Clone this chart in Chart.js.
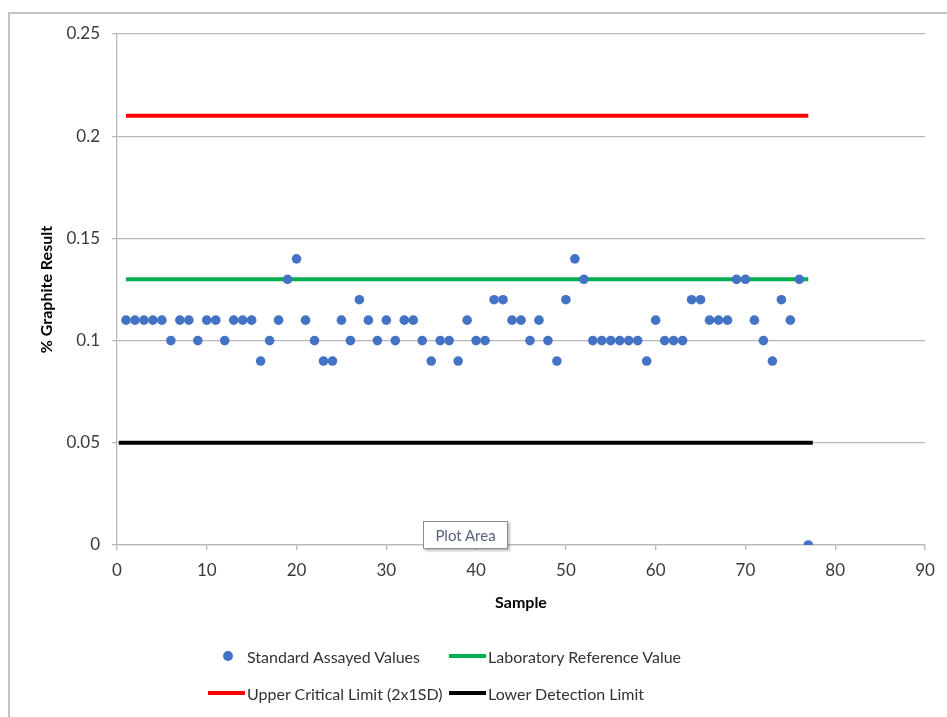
<!DOCTYPE html>
<html>
<head>
<meta charset="utf-8">
<script src="https://cdn.jsdelivr.net/npm/chart.js@4/dist/chart.umd.min.js"></script>
<style>
  body { margin: 0; background: #fff; }
  #wrap { position: relative; width: 947px; height: 717px; font-family: Lato, "Liberation Sans", sans-serif; }
  #frame { position: absolute; left: 8px; top: 12px; right: 0; bottom: 0; border-left: 2px solid #c4c4c4; border-top: 2px solid #c4c4c4; pointer-events: none; }
  #legend { position: absolute; left: 0; top: 0; width: 947px; height: 717px; pointer-events: none; }
  .item { position: absolute; display: flex; align-items: center; font-size: 16px; color: #333; white-space: nowrap; height: 20px; }
  .sym { width: 37px; height: 20px; position: relative; margin-right: 2px; }
  .sym .ln { position: absolute; left: 0; right: 0; top: 8px; height: 4px; }
  .sym .dot { position: absolute; left: 15px; top: 5px; width: 10px; height: 10px; border-radius: 50%; }
  #tip { position: absolute; left: 423px; top: 521px; width: 83px; height: 26px; background: #fff; border: 1px solid #8c8c8c;
         box-shadow: 2px 2px 2px rgba(0,0,0,0.25); font-size: 15px; color: #56627a; line-height: 26px; text-align: center; }
</style>
</head>
<body>
<div id="wrap">
  <canvas id="qcChart" width="947" height="717"></canvas>
  <div id="frame"></div>
  <div id="legend"></div>
  <div id="tip">Plot Area</div>
</div>
<script>
const samples = [
  1, 2, 3, 4, 5, 6, 7, 8, 9, 10,
  11, 12, 13, 14, 15, 16, 17, 18, 19, 20,
  21, 22, 23, 24, 25, 26, 27, 28, 29, 30,
  31, 32, 33, 34, 35, 36, 37, 38, 39, 40,
  41, 42, 43, 44, 45, 46, 47, 48, 49, 50,
  51, 52, 53, 54, 55, 56, 57, 58, 59, 60,
  61, 62, 63, 64, 65, 66, 67, 68, 69, 70,
  71, 72, 73, 74, 75, 76, 77
];

const assayed = [
  0.11, 0.11, 0.11, 0.11, 0.11, 0.10, 0.11, 0.11, 0.10, 0.11,
  0.11, 0.10, 0.11, 0.11, 0.11, 0.09, 0.10, 0.11, 0.13, 0.14,
  0.11, 0.10, 0.09, 0.09, 0.11, 0.10, 0.12, 0.11, 0.10, 0.11,
  0.10, 0.11, 0.11, 0.10, 0.09, 0.10, 0.10, 0.09, 0.11, 0.10,
  0.10, 0.12, 0.12, 0.11, 0.11, 0.10, 0.11, 0.10, 0.09, 0.12,
  0.14, 0.13, 0.10, 0.10, 0.10, 0.10, 0.10, 0.10, 0.09, 0.11,
  0.10, 0.10, 0.10, 0.12, 0.12, 0.11, 0.11, 0.11, 0.13, 0.13,
  0.11, 0.10, 0.09, 0.12, 0.11, 0.13, 0.00
];

// limit lines (start / end of each)
const refX = [1, 77];
const refY = [0.13, 0.13];
const uclX = [1, 77];
const uclY = [0.21, 0.21];
const ldlX = [0.2, 77.5];
const ldlY = [0.05, 0.05];

const xTicks = [0, 10, 20, 30, 40, 50, 60, 70, 80, 90];
const yTicks = [0, 0.05, 0.1, 0.15, 0.2, 0.25];

const toPoints = (xs, ys) => xs.map((x, i) => ({ x: x, y: ys[i] }));

const textColor = "#3a3a3a";
const gridColor = "#b8b8b8";

const chartCanvas = document.getElementById("qcChart");

const chart = new Chart(chartCanvas, {
  type: "scatter",

  data: {
    datasets: [
      {
        label: "Standard Assayed Values",
        data: toPoints(samples, assayed),
        backgroundColor: "#4472c4",
        borderColor: "#4472c4",
        pointRadius: 4.8,
        pointBorderWidth: 0,
        showLine: false
      },
      {
        label: "Laboratory Reference Value",
        data: toPoints(refX, refY),
        borderColor: "#00b050",
        backgroundColor: "#00b050",
        borderWidth: 4,
        pointRadius: 0,
        showLine: true
      },
      {
        label: "Upper Critical Limit (2x1SD)",
        data: toPoints(uclX, uclY),
        borderColor: "#ff0000",
        backgroundColor: "#ff0000",
        borderWidth: 4,
        pointRadius: 0,
        showLine: true
      },
      {
        label: "Lower Detection Limit",
        data: toPoints(ldlX, ldlY),
        borderColor: "#000000",
        backgroundColor: "#000000",
        borderWidth: 4,
        pointRadius: 0,
        showLine: true
      }
    ]
  },

  options: {
    responsive: false,
    animation: false,
    events: [],

    layout: {
      padding: { left: 0, top: 34, right: 22, bottom: 0 }
    },

    plugins: {
      legend: { display: false },
      tooltip: { enabled: false }
    },

    scales: {
      x: {
        type: "linear",
        min: 0,
        max: 90,
        afterFit: scale => { scale.height = 172; },
        afterBuildTicks: scale => { scale.ticks = xTicks.map(v => ({ value: v })); },
        grid: {
          drawOnChartArea: false,
          drawTicks: true,
          tickLength: 5,
          color: gridColor,
          lineWidth: 1.3
        },
        border: { color: gridColor, width: 1.3 },
        ticks: {
          padding: 10,
          color: textColor,
          font: { family: "Lato", size: 17 }
        },
        title: {
          display: true,
          text: "Sample",
          color: "#000",
          font: { family: "Lato", size: 16, weight: "bold" },
          padding: { top: 0, bottom: 105 }
        }
      },
      y: {
        min: 0,
        max: 0.25,
        afterFit: scale => { scale.width = 117; },
        afterBuildTicks: scale => { scale.ticks = yTicks.map(v => ({ value: v })); },
        grid: {
          drawTicks: true,
          tickLength: 5,
          color: gridColor,
          lineWidth: 1.3
        },
        border: { color: gridColor, width: 1.3 },
        ticks: {
          padding: 12,
          color: textColor,
          font: { family: "Lato", size: 17 },
          callback: v => String(Number(v.toFixed(2)))
        },
        title: {
          display: true,
          text: "% Graphite Result",
          color: "#000",
          font: { family: "Lato", size: 16, weight: "bold" },
          padding: { top: 37, bottom: 0 }
        }
      }
    }
  }
});

// Excel style two-column legend, built from the chart's datasets
const legendBox = document.getElementById("legend");
const legendSlots = [
  { left: 208, top: 646 },
  { left: 449, top: 646 },
  { left: 208, top: 683 },
  { left: 449, top: 683 }
];

chart.data.datasets.forEach((ds, i) => {
  const item = document.createElement("div");
  item.className = "item";
  item.style.left = legendSlots[i].left + "px";
  item.style.top = legendSlots[i].top + "px";

  const sym = document.createElement("div");
  sym.className = "sym";
  const mark = document.createElement("div");
  mark.className = ds.showLine ? "ln" : "dot";
  mark.style.background = ds.borderColor;
  sym.appendChild(mark);

  const label = document.createElement("span");
  label.textContent = ds.label;

  item.appendChild(sym);
  item.appendChild(label);
  legendBox.appendChild(item);
});
</script>
</body>
</html>
